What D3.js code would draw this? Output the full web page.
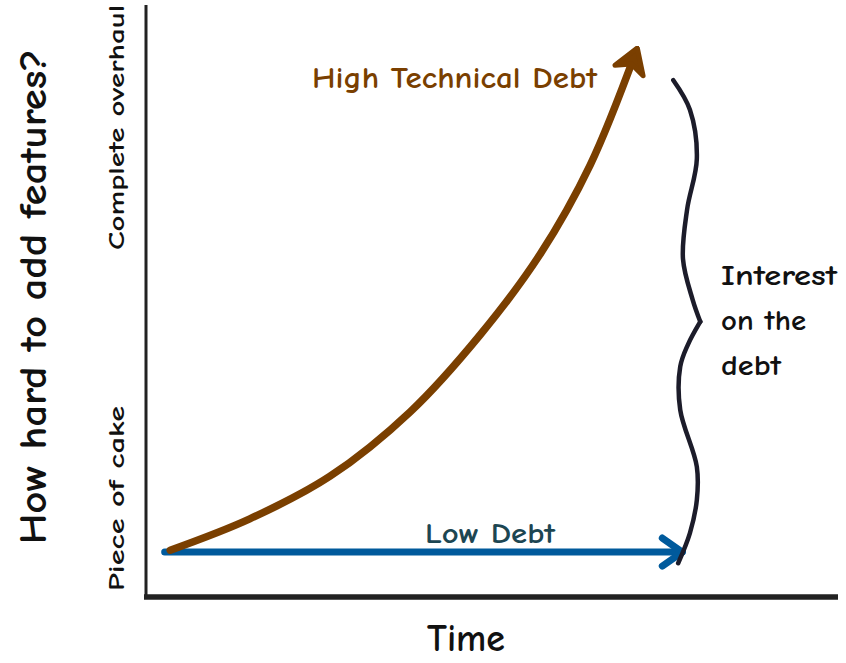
<!DOCTYPE html>
<html>
<head>
<meta charset="utf-8">
<script src="https://cdn.jsdelivr.net/npm/d3@7"></script>
<style>
  body { margin: 0; background: #fff; }
  svg text { font-family: "Comic Sans MS", "Comic Neue", Lato, sans-serif; font-weight: bold; }
</style>
</head>
<body>
<div id="chart"></div>
<script>
// axis domains (arbitrary units: time, effort)
const timeDomain = [0, 10];
const effortDomain = [0, 10];

// high technical debt curve
const highDebtTime   = [0.35, 1.50, 2.66, 3.82, 4.83, 5.69, 6.42, 7.08];
const highDebtEffort = [0.79, 1.32, 2.04, 3.13, 4.43, 5.78, 7.30, 9.21];

// low debt line
const lowDebtTime   = [0.27, 7.75];
const lowDebtEffort = [0.76, 0.76];

// curly brace, top half and bottom half meeting at the cusp
const braceTopTime     = [7.62, 7.86, 7.96, 7.82, 7.76, 7.90, 8.01];
const braceTopEffort   = [8.73, 8.23, 7.40, 6.55, 5.71, 5.02, 4.65];
const braceBottomTime   = [8.01, 7.83, 7.72, 7.72, 7.96, 7.96, 7.86, 7.69];
const braceBottomEffort = [4.65, 4.26, 3.89, 3.16, 2.20, 1.64, 1.08, 0.57];

const yTickLabels = ["Piece of cake", "Complete overhaul"];
const braceLabel = ["Interest", "on the", "debt"];

const width = 846, height = 663;
const margin = { top: 5, right: 8, bottom: 66, left: 146 };

const x = d3.scaleLinear()
    .domain(timeDomain)
    .range([margin.left, width - margin.right]);

const y = d3.scaleLinear()
    .domain(effortDomain)
    .range([height - margin.bottom, margin.top]);

const svg = d3.select("#chart")
    .append("svg")
    .attr("width", width)
    .attr("height", height);

const defs = svg.append("defs");

defs.append("marker")
    .attr("id", "head-brown")
    .attr("markerUnits", "userSpaceOnUse")
    .attr("viewBox", "-28 -20 34 40")
    .attr("markerWidth", 34)
    .attr("markerHeight", 40)
    .attr("refX", 0)
    .attr("refY", 0)
    .attr("orient", "auto")
    .append("path")
    .attr("d", "M-20,-15 L4,0 L-20,15 L-13,0 Z")
    .attr("fill", "#7a3f00")
    .attr("stroke", "#7a3f00")
    .attr("stroke-width", 5)
    .attr("stroke-linejoin", "round");

defs.append("marker")
    .attr("id", "head-blue")
    .attr("markerUnits", "userSpaceOnUse")
    .attr("viewBox", "-28 -20 34 40")
    .attr("markerWidth", 34)
    .attr("markerHeight", 40)
    .attr("refX", 0)
    .attr("refY", 0)
    .attr("orient", "auto")
    .append("path")
    .attr("d", "M-20,-14 L0,0 L-20,14")
    .attr("fill", "none")
    .attr("stroke", "#005a9c")
    .attr("stroke-width", 7)
    .attr("stroke-linecap", "round")
    .attr("stroke-linejoin", "round");

const zip = (xs, ys) => xs.map((d, i) => [d, ys[i]]);

const line = d3.line()
    .x(d => x(d[0]))
    .y(d => y(d[1]))
    .curve(d3.curveCatmullRom.alpha(0.5));

// axes, drawn as plain lines (no ticks)
svg.append("line")
    .attr("x1", x(0)).attr("x2", x(0))
    .attr("y1", y(10)).attr("y2", y(0))
    .attr("stroke", "#222")
    .attr("stroke-width", 3);

svg.append("line")
    .attr("x1", x(0) - 2).attr("x2", x(10))
    .attr("y1", y(0)).attr("y2", y(0))
    .attr("stroke", "#222")
    .attr("stroke-width", 5.5);

// y tick labels
svg.append("g")
    .selectAll("text")
    .data(yTickLabels)
    .join("text")
    .attr("transform", (d, i) => i === 0
        ? `translate(124,${y(0) - 6}) rotate(-90)`
        : `translate(124,${y(10)}) rotate(-90)`)
    .attr("text-anchor", (d, i) => i === 0 ? "start" : "end")
    .attr("font-size", 22)
    .attr("fill", "#111")
    .attr("textLength", (d, i) => i === 0 ? 185 : 245)
    .attr("lengthAdjust", "spacingAndGlyphs")
    .text(d => d);

// axis titles
svg.append("text")
    .attr("transform", `translate(46,${y(5.07)}) rotate(-90)`)
    .attr("text-anchor", "middle")
    .attr("font-size", 38)
    .attr("fill", "#111")
    .attr("textLength", 495)
    .attr("lengthAdjust", "spacingAndGlyphs")
    .text("How hard to add features?");

svg.append("text")
    .attr("x", 466)
    .attr("y", 651)
    .attr("text-anchor", "middle")
    .attr("font-size", 38)
    .attr("fill", "#111")
    .attr("textLength", 78)
    .attr("lengthAdjust", "spacingAndGlyphs")
    .text("Time");

// low debt
svg.append("path")
    .attr("d", line(zip(lowDebtTime, lowDebtEffort)))
    .attr("fill", "none")
    .attr("stroke", "#005a9c")
    .attr("stroke-width", 7)
    .attr("stroke-linecap", "round")
    .attr("marker-end", "url(#head-blue)");

svg.append("text")
    .attr("x", 490)
    .attr("y", 543)
    .attr("text-anchor", "middle")
    .attr("font-size", 28)
    .attr("fill", "#1d4652")
    .attr("textLength", 130)
    .attr("lengthAdjust", "spacingAndGlyphs")
    .text("Low Debt");

// high technical debt
svg.append("path")
    .attr("d", line(zip(highDebtTime, highDebtEffort)))
    .attr("fill", "none")
    .attr("stroke", "#7a3f00")
    .attr("stroke-width", 7.5)
    .attr("stroke-linecap", "round")
    .attr("marker-end", "url(#head-brown)");

svg.append("text")
    .attr("x", 597)
    .attr("y", 88)
    .attr("text-anchor", "end")
    .attr("font-size", 30)
    .attr("fill", "#7a3f00")
    .attr("textLength", 285)
    .attr("lengthAdjust", "spacingAndGlyphs")
    .text("High Technical Debt");

// brace
[zip(braceTopTime, braceTopEffort), zip(braceBottomTime, braceBottomEffort)].forEach(pts => {
    svg.append("path")
        .attr("d", line(pts))
        .attr("fill", "none")
        .attr("stroke", "#1c1c2a")
        .attr("stroke-width", 4.5)
        .attr("stroke-linecap", "round");
});

const braceWidths = [116, 85, 60];
svg.append("g")
    .selectAll("text")
    .data(braceLabel)
    .join("text")
    .attr("x", 721)
    .attr("y", (d, i) => 285 + i * 45)
    .attr("font-size", 28)
    .attr("fill", "#111")
    .attr("textLength", (d, i) => braceWidths[i])
    .attr("lengthAdjust", "spacingAndGlyphs")
    .text(d => d);
</script>
</body>
</html>
